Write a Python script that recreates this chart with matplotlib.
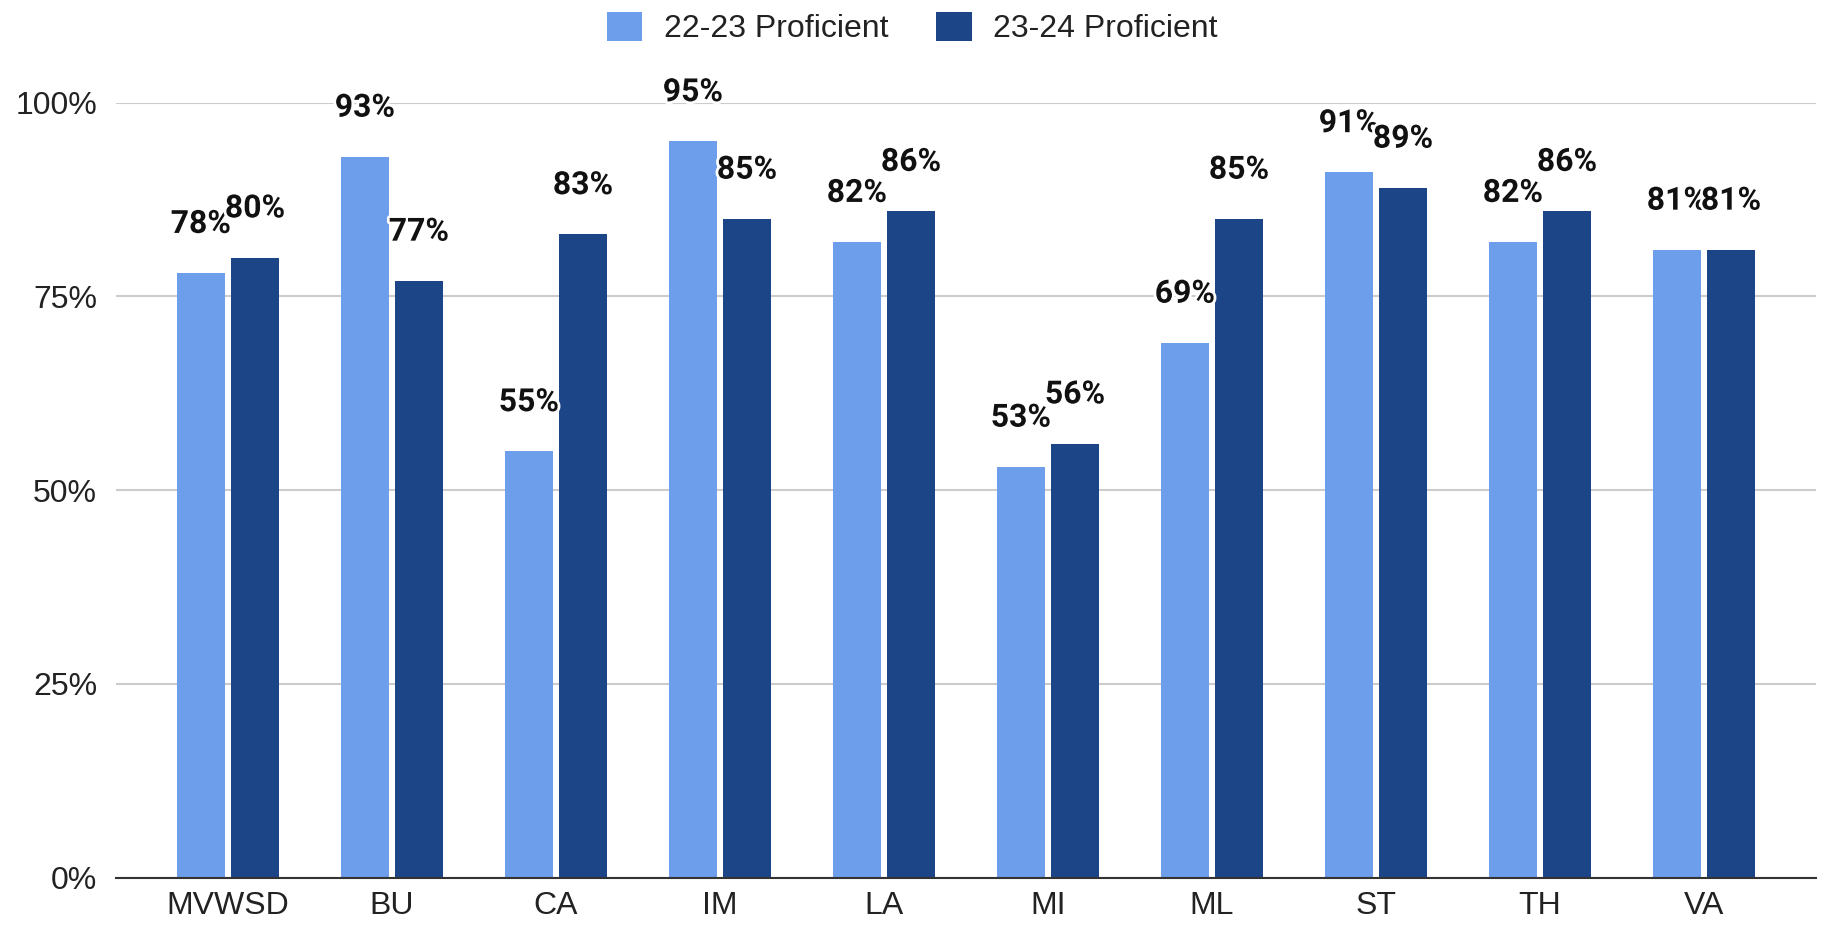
import matplotlib
matplotlib.use("Agg")
import matplotlib.pyplot as plt
import matplotlib.patheffects as pe
import numpy as np

categories = ["MVWSD", "BU", "CA", "IM", "LA", "MI", "ML", "ST", "TH", "VA"]
series_names = ["22-23 Proficient", "23-24 Proficient"]
prof_22_23 = [78, 93, 55, 95, 82, 53, 69, 91, 82, 81]
prof_23_24 = [80, 77, 83, 85, 86, 56, 85, 89, 86, 81]
y_ticks = [0, 25, 50, 75, 100]
y_tick_labels = ["0%", "25%", "50%", "75%", "100%"]

colors = ["#6d9eeb", "#1c4587"]

W, H, DPI = 1825, 927, 100
fig = plt.figure(figsize=(W / DPI, H / DPI), dpi=DPI)
ax = fig.add_axes([116 / W, 1 - 877.7 / H, (1816 - 116) / W, (877.7 - 102.7) / H])

x = np.arange(len(categories))
bw = 0.29
off = 0.165
series = [prof_22_23, prof_23_24]
for k, (vals, c) in enumerate(zip(series, colors)):
    xs = x + (-off if k == 0 else off)
    ax.bar(xs, vals, width=bw, color=c, label=series_names[k], zorder=3)
    for xi, v in zip(xs, vals):
        ax.annotate(f"{v}%", (xi, v), xytext=(0, 29), textcoords="offset points",
                    ha="center", va="baseline", fontsize=23, fontweight="bold",
                    family="Roboto", color="#111111", zorder=5, annotation_clip=False,
                    path_effects=[pe.withStroke(linewidth=4, foreground="white")])

ax.set_xlim(-0.5 - 30 / 164, 9.5 + 30 / 164)
ax.set_ylim(0, 100)
ax.set_yticks(y_ticks)
ax.set_yticklabels(y_tick_labels)
ax.set_xticks(x)
ax.set_xticklabels(categories)
ax.tick_params(axis="y", length=0, pad=13.5, labelsize=23, labelcolor="#222222")
ax.tick_params(axis="x", length=0, pad=9.5, labelsize=23, labelcolor="#222222")
for lab in ax.get_xticklabels() + ax.get_yticklabels():
    lab.set_family("Liberation Sans")

ax.grid(axis="y", color="#cccccc", linewidth=1.5, zorder=0)
ax.set_axisbelow(True)
for s in ["top", "right", "left"]:
    ax.spines[s].set_visible(False)
ax.spines["bottom"].set_color("#333333")
ax.spines["bottom"].set_linewidth(1.5)
ax.spines["bottom"].set_zorder(4)

leg = fig.legend(loc="center", bbox_to_anchor=(0.5, 1 - 28 / H), ncol=2, frameon=False,
                 prop={"family": "Liberation Sans", "size": 23},
                 handlelength=1.1, handleheight=1.05, handletextpad=0.68,
                 columnspacing=1.5, labelcolor="#222222")

fig.savefig("out.png", dpi=DPI, facecolor="white")
